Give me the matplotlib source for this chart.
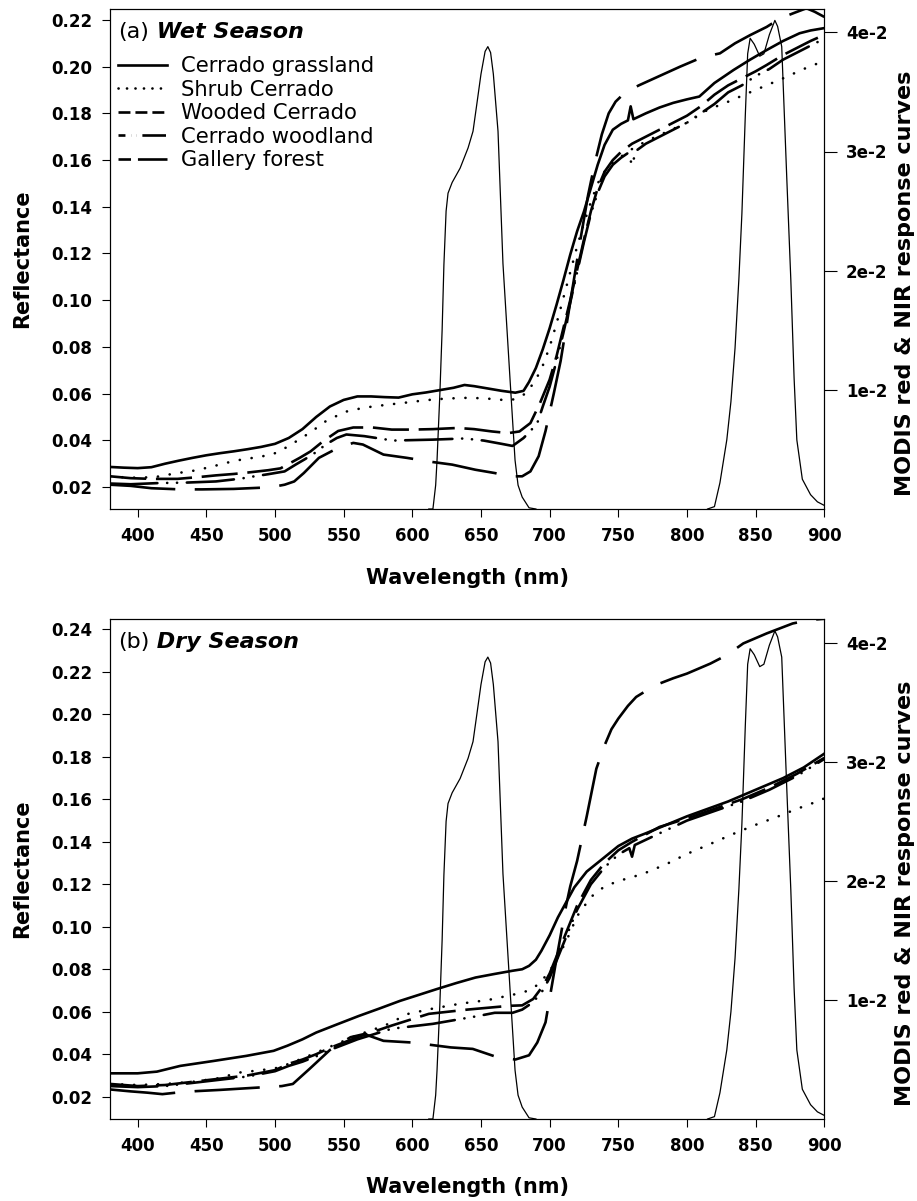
import matplotlib
matplotlib.use("Agg")
import matplotlib.pyplot as plt
from matplotlib.lines import Line2D

plt.rcParams['font.family'] = ['DejaVu Sans']
plt.rcParams['lines.scale_dashes'] = False

# ---------------- MODIS response curves (right axis) ----------------
red_wl = [612, 615, 617, 618, 620, 621.7, 623, 624.6, 626, 629, 634.8, 640.6, 644.2, 647, 650, 653, 655,
          657, 659, 662.4, 666, 671.2, 674.8, 677, 680, 685, 690]
red_resp = [0.0, 0.0, 0.002, 0.0041, 0.0095, 0.015, 0.0205, 0.025, 0.0265, 0.0274, 0.0286, 0.0303, 0.0317,
            0.034, 0.0365, 0.0384, 0.0388, 0.0383, 0.0365, 0.0317, 0.0206, 0.0108, 0.0041, 0.002, 0.001,
            0.0001, 0.0]
nir_wl = [815, 820, 824, 829, 832, 835, 837.8, 840, 842.5, 844.2, 846, 849, 853, 856, 860, 864, 866, 869,
          872.7, 875.6, 878, 880, 884, 890, 895, 900]
nir_resp = [0.0, 0.0002, 0.0022, 0.0058, 0.009, 0.0135, 0.0193, 0.0248, 0.0331, 0.0382, 0.0395, 0.039,
            0.038, 0.0382, 0.0398, 0.041, 0.0405, 0.0388, 0.0277, 0.0193, 0.011, 0.0058, 0.0025, 0.0012,
            0.0006, 0.0003]

# ---------------- (a) Wet season ----------------
grass_w_wl = [380, 390, 400, 410, 420, 430, 440, 450, 460, 470, 480, 490, 500, 510, 520, 530, 540, 550, 560,
              570, 580, 590, 600, 610, 620, 630, 638, 645, 655, 665, 675, 681, 685, 690, 695, 700, 705, 710,
              715, 720, 725, 730, 735, 740, 746, 752, 757, 759, 761, 770, 780, 790, 800, 809, 820, 834, 846,
              858, 870, 882, 890, 900]
grass_w = [0.0286, 0.0283, 0.0281, 0.0285, 0.0300, 0.0313, 0.0325, 0.0336, 0.0345, 0.0353, 0.0362, 0.0372,
           0.0385, 0.0410, 0.0448, 0.0500, 0.0545, 0.0573, 0.0588, 0.0588, 0.0585, 0.0583, 0.0597, 0.0605,
           0.0615, 0.0625, 0.0637, 0.0632, 0.0622, 0.0612, 0.0604, 0.0612, 0.0650, 0.0710, 0.0790, 0.0880,
           0.0980, 0.1085, 0.1195, 0.1295, 0.1380, 0.1480, 0.1580, 0.1665, 0.1730, 0.1755, 0.1770, 0.1830,
           0.1775, 0.1800, 0.1825, 0.1845, 0.1860, 0.1872, 0.1930, 0.1986, 0.2030, 0.2071, 0.2110, 0.2143,
           0.2155, 0.2165]

shrub_w_wl = [380, 395, 412, 427, 443, 457, 471, 485, 498, 509, 518, 526, 537, 551, 565, 581, 596, 610, 625,
              640, 652, 668, 675, 683, 690, 695, 700, 705, 710, 715, 720, 725, 730, 735, 740, 746, 759, 770,
              783, 800, 815, 830, 853, 870, 885, 900]
shrub_w = [0.0245, 0.0240, 0.0242, 0.0258, 0.0272, 0.0292, 0.0313, 0.0326, 0.0339, 0.0372, 0.0405, 0.0435,
           0.0482, 0.0522, 0.0540, 0.0552, 0.0562, 0.0572, 0.0579, 0.0582, 0.0580, 0.0572, 0.0576, 0.0602,
           0.0660, 0.0720, 0.0800, 0.0900, 0.1010, 0.1120, 0.1230, 0.1330, 0.1420, 0.1500, 0.1550, 0.1590,
           0.1644, 0.1680, 0.1715, 0.1760, 0.1815, 0.1850, 0.1908, 0.1950, 0.1990, 0.2025]

wooded_w_wl = [380, 395, 410, 429, 445, 457, 470, 480, 495, 504, 509, 518, 526, 535, 546, 557, 571, 585, 600,
               615, 633, 645, 658, 670, 678, 686, 693, 700, 705, 710, 715, 720, 725, 730, 735, 740, 746, 752,
               760, 770, 780, 790, 800, 810, 820, 830, 840, 850, 858, 870, 880, 890, 900]
wooded_w = [0.0246, 0.0238, 0.0235, 0.0235, 0.0243, 0.0250, 0.0256, 0.0262, 0.0272, 0.0280, 0.0296, 0.0325,
            0.0353, 0.0396, 0.0440, 0.0455, 0.0455, 0.0446, 0.0446, 0.0448, 0.0453, 0.0448, 0.0438, 0.0431,
            0.0438, 0.0474, 0.0560, 0.0660, 0.0760, 0.0880, 0.1000, 0.1130, 0.1260, 0.1380, 0.1480, 0.1550,
            0.1600, 0.1635, 0.1670, 0.1700, 0.1730, 0.1760, 0.1790, 0.1830, 0.1880, 0.1920, 0.1950, 0.1980,
            0.2007, 0.2050, 0.2080, 0.2110, 0.2136]

woodland_w_wl = [380, 395, 415, 435, 457, 475, 484, 495, 507, 515, 522, 529, 537, 545, 552, 565, 586, 600,
                 615, 638, 652, 665, 673, 681, 686, 691, 695, 700, 705, 710, 715, 720, 725, 730, 735, 740, 746,
                 752, 757, 760, 763, 770, 780, 790, 800, 810, 820, 830, 840, 850, 860, 870, 880, 890, 900]
woodland_w = [0.0215, 0.0212, 0.0217, 0.0219, 0.0224, 0.0236, 0.0245, 0.0255, 0.0267, 0.0296, 0.0320, 0.0346,
              0.0382, 0.0410, 0.0425, 0.0418, 0.0399, 0.0401, 0.0403, 0.0408, 0.0399, 0.0385, 0.0376, 0.0410,
              0.0440, 0.0474, 0.0545, 0.0630, 0.0740, 0.0860, 0.0990, 0.1120, 0.1250, 0.1370, 0.1460, 0.1530,
              0.1580, 0.1610, 0.1630, 0.1580, 0.1640, 0.1670, 0.1700, 0.1730, 0.1760, 0.1800, 0.1840, 0.1890,
              0.1920, 0.1960, 0.1990, 0.2030, 0.2060, 0.2090, 0.2120]

gallery_w_wl = [380, 395, 410, 431, 447, 470, 497, 507, 514, 521, 532, 546, 557, 564, 579, 596, 615, 629, 646,
                660, 671, 680, 686, 692, 697, 703, 708, 713, 718, 723, 728, 733, 738, 743, 748, 755, 765, 780,
                795, 811, 824, 835, 846, 858, 868, 878, 887, 893, 900]
gallery_w = [0.0210, 0.0205, 0.0195, 0.0190, 0.0190, 0.0192, 0.0199, 0.0210, 0.0224, 0.0260, 0.0325, 0.0368,
             0.0389, 0.0382, 0.0339, 0.0325, 0.0307, 0.0296, 0.0274, 0.0260, 0.0246, 0.0246, 0.0267, 0.0332,
             0.0440, 0.0600, 0.0740, 0.0920, 0.1100, 0.1280, 0.1450, 0.1590, 0.1710, 0.1800, 0.1850, 0.1890,
             0.1920, 0.1960, 0.2000, 0.2040, 0.2057, 0.2100, 0.2135, 0.2170, 0.2207, 0.2230, 0.2250, 0.2235,
             0.2213]

# ---------------- (b) Dry season ----------------
grass_d_wl = [380, 400, 414, 431, 455, 479, 499, 509, 520, 530, 545, 561, 576, 591, 605, 618, 632, 646, 660,
              673, 680, 685, 690, 694, 700, 706, 712, 718, 727, 737, 750, 760, 770, 785, 800, 815, 830, 850,
              870, 885, 900]
grass_d = [0.0310, 0.0310, 0.0318, 0.0345, 0.0368, 0.0392, 0.0416, 0.0440, 0.0470, 0.0502, 0.0540, 0.0580,
           0.0615, 0.0651, 0.0680, 0.0707, 0.0735, 0.0761, 0.0778, 0.0793, 0.0800, 0.0816, 0.0845, 0.0887,
           0.0960, 0.1044, 0.1115, 0.1186, 0.1260, 0.1312, 0.1380, 0.1415, 0.1440, 0.1480, 0.1520, 0.1555,
           0.1590, 0.1645, 0.1700, 0.1750, 0.1815]

shrub_d_wl = [380, 400, 420, 440, 460, 473, 490, 503, 520, 540, 560, 580, 597, 615, 635, 655, 676, 685, 692,
              700, 708, 714, 720, 730, 740, 750, 768, 785, 800, 817, 834, 850, 865, 880, 897, 900]
shrub_d = [0.0260, 0.0255, 0.0260, 0.0270, 0.0288, 0.0313, 0.0325, 0.0337, 0.0380, 0.0435, 0.0490, 0.0535,
           0.0590, 0.0615, 0.0638, 0.0655, 0.0684, 0.0700, 0.0730, 0.0790, 0.0880, 0.0960, 0.1050, 0.1140,
           0.1190, 0.1215, 0.1249, 0.1295, 0.1343, 0.1390, 0.1438, 0.1480, 0.1516, 0.1555, 0.1595, 0.1605]

wooded_d_wl = [380, 400, 420, 440, 460, 480, 500, 510, 520, 530, 540, 560, 585, 612, 640, 671, 680, 688, 695,
               700, 710, 720, 730, 740, 750, 760, 780, 800, 820, 840, 860, 880, 900]
wooded_d = [0.0260, 0.0250, 0.0255, 0.0270, 0.0285, 0.0300, 0.0325, 0.0355, 0.0375, 0.0400, 0.0430, 0.0480,
            0.0535, 0.0590, 0.0610, 0.0628, 0.0630, 0.0660, 0.0720, 0.0780, 0.0940, 0.1100, 0.1220, 0.1300,
            0.1360, 0.1400, 0.1470, 0.1510, 0.1555, 0.1600, 0.1655, 0.1720, 0.1795]

woodland_d_wl = [380, 400, 420, 440, 460, 480, 500, 510, 520, 530, 540, 560, 585, 615, 648, 660, 673, 680,
                 688, 695, 700, 710, 720, 730, 740, 750, 758, 760, 762, 780, 800, 820, 840, 860, 880, 900]
woodland_d = [0.0250, 0.0245, 0.0250, 0.0265, 0.0280, 0.0295, 0.0320, 0.0345, 0.0365, 0.0390, 0.0420, 0.0470,
              0.0520, 0.0543, 0.0580, 0.0595, 0.0595, 0.0610, 0.0645, 0.0700, 0.0760, 0.0920, 0.1080, 0.1200,
              0.1280, 0.1340, 0.1370, 0.1330, 0.1385, 0.1440, 0.1500, 0.1545, 0.1590, 0.1645, 0.1710, 0.1790]

gallery_d_wl = [380, 395, 407, 418, 428, 442, 460, 480, 493, 505, 513, 525, 540, 555, 565, 579, 600, 628, 644,
                660, 675, 685, 691, 697, 705, 712, 715, 720, 727, 734, 740, 745, 750, 757, 763, 770, 780, 790,
                800, 817, 829, 841, 858, 877, 890, 900]
gallery_d = [0.0234, 0.0225, 0.0219, 0.0212, 0.0219, 0.0226, 0.0232, 0.0240, 0.0245, 0.0250, 0.0260, 0.0330,
             0.0420, 0.0480, 0.0495, 0.0463, 0.0455, 0.0432, 0.0425, 0.0390, 0.0375, 0.0395, 0.0455, 0.0550,
             0.0850, 0.1100, 0.1190, 0.1310, 0.1520, 0.1744, 0.1854, 0.1930, 0.1980, 0.2040, 0.2082, 0.2110,
             0.2145, 0.2170, 0.2192, 0.2239, 0.2279, 0.2334, 0.2381, 0.2428, 0.2445, 0.2450]

series_names = ["Cerrado grassland", "Shrub Cerrado", "Wooded Cerrado", "Cerrado woodland", "Gallery forest"]
y_ticks_a = [0.02, 0.04, 0.06, 0.08, 0.10, 0.12, 0.14, 0.16, 0.18, 0.20, 0.22]
y_ticks_b = [0.02, 0.04, 0.06, 0.08, 0.10, 0.12, 0.14, 0.16, 0.18, 0.20, 0.22, 0.24]
x_ticks = [400, 450, 500, 550, 600, 650, 700, 750, 800, 850, 900]
r_ticks = [0.01, 0.02, 0.03, 0.04]
r_ticklabels = ["1e-2", "2e-2", "3e-2", "4e-2"]

# ---------------- styles ----------------
LW = 1.9
plot_styles = [
    dict(linestyle='-'),
    dict(linestyle=(0, (0.1, 8.5)), dash_capstyle='round'),
    dict(linestyle=(0, (26, 7))),
    dict(linestyle=(0, (34, 7, 0.1, 7, 0.1, 7)), dash_capstyle='round'),
    dict(linestyle=(0, (47, 14))),
]
legend_styles = [
    dict(linestyle='-'),
    dict(linestyle=(0, (0.1, 6)), dash_capstyle='round'),
    dict(linestyle=(0, (8.6, 3.6))),
    dict(linestyle=(0, (5, 4, 0.1, 4, 0.1, 4, 17, 3))),
    dict(linestyle=(0, (9, 5, 22, 5))),
]

W, H = 917, 1201
fig = plt.figure(figsize=(W / 100, H / 100), dpi=100)

def px_axes(left, top, right, bottom):
    return fig.add_axes([left / W, 1 - bottom / H, (right - left) / W, (bottom - top) / H])

def style_axes(ax, axr, yticks, ylim):
    ax.set_xlim(380, 900)
    ax.set_ylim(*ylim)
    ax.set_xticks(x_ticks)
    ax.set_yticks(yticks)
    ax.set_yticklabels([f"{v:.2f}" for v in yticks])
    ax.tick_params(axis='both', direction='out', length=6, width=0.8, labelsize=12, colors='black')
    ax.tick_params(axis='y', pad=7)
    ax.tick_params(axis='x', pad=7)
    for lab in ax.get_xticklabels() + ax.get_yticklabels():
        lab.set_fontweight('bold')
    for s in ax.spines.values():
        s.set_linewidth(0.8)
    axr.set_ylim(0, 0.042)
    axr.set_yticks(r_ticks)
    axr.set_yticklabels(r_ticklabels)
    axr.tick_params(axis='y', direction='out', length=9.5, width=0.8, labelsize=12, pad=6)
    for lab in axr.get_yticklabels():
        lab.set_fontweight('bold')
    for s in axr.spines.values():
        s.set_linewidth(0.8)

def draw_panel(ax, data):
    for (wl, vals), st in zip(data, plot_styles):
        ax.plot(wl, vals, color='black', lw=LW, **st)

def draw_response(axr):
    axr.plot(red_wl, red_resp, color='black', lw=0.9)
    axr.plot(nir_wl, nir_resp, color='black', lw=0.9)

def panel_title(ax, letter, season, ypos):
    t = ax.text(0.011, ypos, f"({letter})", transform=ax.transAxes, fontsize=16, va='center', ha='left')
    ax.annotate(f" {season}", xy=(1, 0.5), xycoords=t, va='center', ha='left', fontsize=16,
                fontweight='bold', fontstyle='italic')

# ---- panel (a)
axA = px_axes(110.2, 8.5, 824.3, 509)
axAr = axA.twinx()
draw_panel(axA, [(grass_w_wl, grass_w), (shrub_w_wl, shrub_w), (wooded_w_wl, wooded_w),
                 (woodland_w_wl, woodland_w), (gallery_w_wl, gallery_w)])
draw_response(axAr)
style_axes(axA, axAr, y_ticks_a, (0.0106, 0.2249))
panel_title(axA, 'a', 'Wet Season', 0.953)

handles = [Line2D([], [], color='black', lw=LW, **st) for st in legend_styles]
axA.legend(handles, series_names, loc='upper left', bbox_to_anchor=(0.011, 0.905), frameon=False,
           fontsize=15.2, handlelength=2.3, handletextpad=0.7, labelspacing=0.17, borderpad=0,
           borderaxespad=0)

# ---- panel (b)
axB = px_axes(110.2, 619, 824.3, 1119)
axBr = axB.twinx()
draw_panel(axB, [(grass_d_wl, grass_d), (shrub_d_wl, shrub_d), (wooded_d_wl, wooded_d),
                 (woodland_d_wl, woodland_d), (gallery_d_wl, gallery_d)])
draw_response(axBr)
style_axes(axB, axBr, y_ticks_b, (0.0095, 0.2449))
panel_title(axB, 'b', 'Dry Season', 0.9546)

# ---- axis labels
lab_kw = dict(fontsize=15, fontweight='bold', ha='center', va='center')
for ycen, xl_y in [(259, 578), (869, 1187)]:
    fig.text(22 / W, 1 - ycen / H, "Reflectance", rotation=90, **lab_kw)
    fig.text(905 / W, 1 - (ycen + 24) / H, "MODIS red & NIR response curves", rotation=90,
             fontsize=16, fontweight='bold', ha='center', va='center')
    fig.text(467 / W, 1 - xl_y / H, "Wavelength (nm)", **lab_kw)

fig.savefig("out.png", dpi=100)
